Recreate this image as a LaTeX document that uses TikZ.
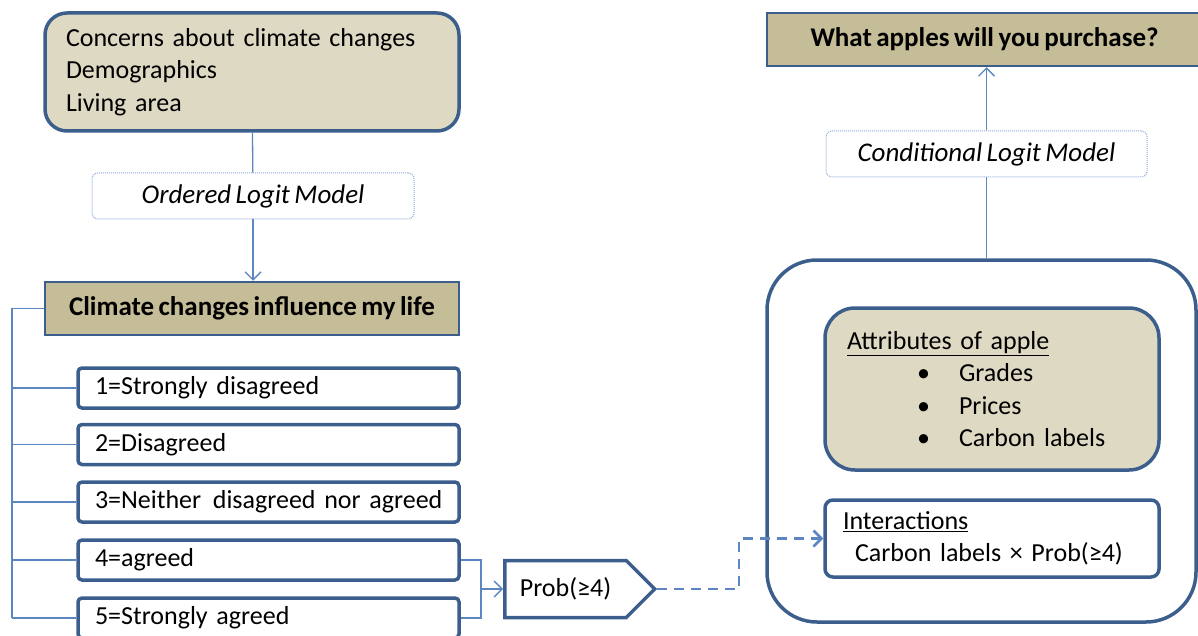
\documentclass[tikz,border=0pt]{standalone}
\usepackage{fontspec}
\setmainfont{Carlito}[WordSpace=0.72]
\usetikzlibrary{positioning,arrows.meta,shapes.symbols}
\definecolor{boxblue}{HTML}{3B5E8C}
\definecolor{linkblue}{HTML}{5B86C0}
\definecolor{dotblue}{HTML}{8EAAD6}
\definecolor{tanlight}{HTML}{DDD9C3}
\definecolor{tandark}{HTML}{C4BD97}

\begin{document}
\begin{tikzpicture}[x=1pt,y=-1pt,
  every node/.style={font=\fontsize{26}{32.5}\selectfont, inner sep=0pt},
  factorbox/.style={draw=boxblue, line width=3.5pt, fill=tanlight, align=left},
  headbox/.style={draw=boxblue, line width=2.5pt, fill=tandark, minimum height=53pt,
    font=\fontsize{27}{30}\selectfont\bfseries},
  modelbox/.style={draw=dotblue, densely dotted, line width=1pt, rounded corners=6pt,
    minimum height=46pt, font=\fontsize{27}{30}\selectfont\itshape},
  optbox/.style={draw=boxblue, line width=3.5pt, rounded corners=4pt, minimum height=40pt,
    text width=347pt, inner xsep=17pt, align=left},
  link/.style={draw=linkblue, line width=1.3pt},
  dashlink/.style={draw=linkblue, line width=2.5pt, dash pattern=on 10pt off 7pt},
  >={Straight Barb[length=8pt,width=16pt]}
]
\useasboundingbox (0,0) rectangle (1198,636);

% left side
\node[factorbox, rounded corners=22pt, text width=372pt, inner xsep=21pt,
  minimum height=118pt] (factors) at (252,72)
  {Concerns about climate changes\\Demographics\\Living area};
\node[modelbox, minimum width=322pt] (olm) at (253,196) {Ordered Logit Model};
\node[headbox, minimum width=414pt] (climate) at (252,308.5) {Climate changes influence my life};

\node[optbox] (opt1) at (268.5,388) {1=Strongly disagreed};
\node[optbox] (opt2) at (268.5,444.5) {2=Disagreed};
\node[optbox] (opt3) at (268.5,502) {\mbox{3=Neither\hspace{3pt} disagreed nor agreed}};
\node[optbox] (opt4) at (268.5,560) {4=agreed};
\node[optbox] (opt5) at (268.5,618) {5=Strongly agreed};

\node[draw=boxblue, line width=3.5pt, signal, signal to=east, signal pointer angle=90,
  minimum width=150pt, minimum height=57pt, anchor=west] (prob) at (503,589) {Prob(≥4)\hspace{10pt}};

% right side
\node[headbox, minimum width=435pt] (purchase) at (984.5,39.5) {What apples will you purchase?};
\node[modelbox, minimum width=321pt] (clm) at (986.5,154) {Conditional Logit Model};
\node[draw=boxblue, line width=3.5pt, rounded corners=50pt, minimum width=429pt,
  minimum height=362pt] (choice) at (981.5,441) {};
\node[factorbox, rounded corners=30pt, text width=290pt, inner xsep=22pt,
  minimum height=162pt] (attr) at (992,389)
  {\underline{Attributes of apple}\\
   \makebox[112pt][l]{\hspace{70pt}\textbullet}Grades\\
   \makebox[112pt][l]{\hspace{70pt}\textbullet}Prices\\
   \makebox[112pt][l]{\hspace{70pt}\textbullet}Carbon labels};
\node[draw=boxblue, line width=3.5pt, rounded corners=8pt, text width=298pt, inner xsep=18pt,
  minimum height=77pt, align=left] (inter) at (992,538.5)
  {\underline{Interactions}\\\hspace{12pt}Carbon labels × Prob(≥4)};

% connectors
\coordinate (spine) at (12,0);
\coordinate (merge) at (481,589);
\coordinate (bend) at (739,0);
\draw[link] (factors) -- (olm);
\draw[link,->] (olm) -- (olm |- climate.north);
\draw[link] (climate.west) -| (spine |- opt5.west);
\foreach \i in {1,...,5}
  \draw[link] (spine |- opt\i.west) -- (opt\i.west);
\draw[link] (opt4.east) -| (merge);
\draw[link] (opt5.east) -| (merge);
\draw[link,->] (merge) -- (prob.west);
\draw[dashlink,->] (prob.east) -| (bend |- inter.west) -- (inter.west);
\draw[link] (clm.south) -- (clm.south |- choice.north);
\draw[link,->] (clm) -- (clm |- purchase.south);
\end{tikzpicture}
\end{document}
